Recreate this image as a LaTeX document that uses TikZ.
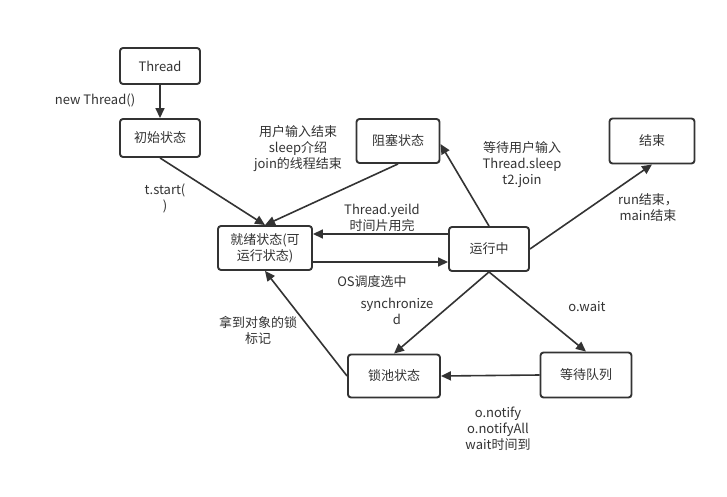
\documentclass[tikz,border=0pt]{standalone}
\usepackage{fontspec}
\setmainfont{Noto Sans CJK SC}
\usetikzlibrary{arrows.meta}
\definecolor{ink}{HTML}{333333}

\begin{document}
\begin{tikzpicture}[x=1pt,y=-1pt,
  >={Triangle[length=10pt,width=9pt]},
  every node/.style={font=\fontsize{13}{16}\selectfont,text=ink,align=center},
  box/.style={draw=ink,line width=1.9pt,rounded corners=3pt,fill=white},
  link/.style={draw=ink,line width=1.6pt,->}]
\useasboundingbox[fill=white] (0,0) rectangle (727,497);
% states
\node[box,minimum width=80pt,minimum height=36pt] (thread) at (160,66) {Thread};
\node[box,minimum width=80pt,minimum height=38pt] (init) at (160,138) {初始状态};
\node[box,minimum width=83pt,minimum height=44pt] (block) at (398,141) {阻塞状态};
\node[box,minimum width=85pt,minimum height=45pt] (finish) at (652,141) {结束};
\node[box,minimum width=94pt,minimum height=44pt] (ready) at (265,248) {就绪状态(可\\运行状态)};
\node[box,minimum width=80pt,minimum height=44pt] (run) at (489,249) {运行中};
\node[box,minimum width=92pt,minimum height=43pt] (lock) at (394,376) {锁池状态};
\node[box,minimum width=91pt,minimum height=45pt] (waitq) at (586,375) {等待队列};
% transitions
\draw[link] (thread) -- (init);
\draw[link] (init.south) -- (ready.north);
\draw[link] (block.south) -- (ready.north);
\draw[link] ([yshift=-14pt]ready.east) -- ([yshift=-13pt]run.west);
\draw[link] ([yshift=15pt]run.west) -- ([yshift=14pt]ready.east);
\draw[link] (run.north) -- ([yshift=-3pt]block.east);
\draw[link] (run.east) -- (finish.south);
\draw[link] (run.south) -- (lock.north);
\draw[link] (run.south) -- (waitq.north);
\draw[link] (waitq.west) -- (lock.east);
\draw[link] (lock.west) -- (ready.south);
% labels
\node (lnew) at (95,100) {new Thread()};
\node (lstart) at (165,198) {t.start(\\)};
\node (lwake) at (298,149) {用户输入结束\\sleep介绍\\join的线程结束};
\node (lsleep) at (522,165) {等待用户输入\\Thread.sleep\\t2.join};
\node (lyield) at (382,218) {Thread.yeild\\时间片用完};
\node (los) at (372,282) {OS调度选中};
\node (lsync) at (397,311) {synchronize\\d};
\node (lowait) at (587,307) {o.wait};
\node (lgot) at (258,330) {拿到对象的锁\\标记};
\node (lnotify) at (498,429) {o.notify\\o.notifyAll\\wait时间到};
\node (lend) at (648,208) {run结束，\\main结束};
\end{tikzpicture}
\end{document}
